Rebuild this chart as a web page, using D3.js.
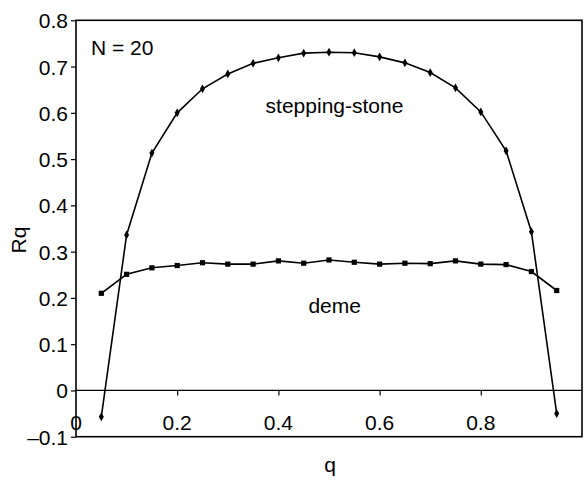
<!DOCTYPE html>
<html>
<head>
<meta charset="utf-8">
<script src="https://cdn.jsdelivr.net/npm/d3@7"></script>
<style>
  body { margin: 0; background: #fff; }
  svg { display: block; font-family: "Liberation Sans", Arial, sans-serif; }
</style>
</head>
<body>
<div id="chart"></div>
<script>
// q values (x), shared by both series
const qValues = [0.05, 0.1, 0.15, 0.2, 0.25, 0.3, 0.35, 0.4, 0.45, 0.5,
  0.55, 0.6, 0.65, 0.7, 0.75, 0.8, 0.85, 0.9, 0.95];

const steppingStone = [-0.057, 0.336, 0.513, 0.600, 0.652, 0.684, 0.707, 0.719, 0.729, 0.731,
  0.730, 0.721, 0.708, 0.687, 0.654, 0.602, 0.518, 0.343, -0.050];

const deme = [0.210, 0.251, 0.265, 0.270, 0.276, 0.273, 0.273, 0.280, 0.275, 0.282,
  0.277, 0.273, 0.275, 0.274, 0.280, 0.273, 0.272, 0.257, 0.216];

const xTicks = [0, 0.2, 0.4, 0.6, 0.8];
const yTicks = [-0.1, 0, 0.1, 0.2, 0.3, 0.4, 0.5, 0.6, 0.7, 0.8];

const width = 584;
const height = 481;
const margin = {top: 20.3, right: 2, bottom: 44.3, left: 76};
const innerW = width - margin.left - margin.right;
const innerH = height - margin.top - margin.bottom;
const fontSize = 21;

const svg = d3.select('#chart')
  .append('svg')
  .attr('width', width)
  .attr('height', height);

const g = svg.append('g')
  .attr('transform', `translate(${margin.left},${margin.top})`);

const x = d3.scaleLinear().domain([0, 1]).range([0, innerW]);
const y = d3.scaleLinear().domain([-0.1, 0.8]).range([innerH, 0]);

const fmt = (d) => {
  if (Math.abs(d) < 1e-9) return '0';
  const s = d3.format('.1f')(Math.abs(d));
  return d < 0 ? '\u2013' + s : s;
};

// y axis
const yAxis = g.append('g')
  .call(d3.axisLeft(y).tickValues(yTicks).tickSize(5).tickPadding(3).tickFormat(fmt));
yAxis.select('.domain').remove();
yAxis.selectAll('line').attr('stroke', '#000').attr('stroke-width', 1.2);
yAxis.selectAll('text')
  .attr('font-size', fontSize)
  .attr('fill', '#000')
  .attr('dy', '0.36em');

// zero line with downward ticks
const y0 = y(0);
const xAxis = g.append('g')
  .attr('transform', `translate(0,${y0})`)
  .call(d3.axisBottom(x).tickValues(xTicks.filter((d) => d > 0)).tickSize(5).tickFormat(''));
xAxis.select('.domain').remove();
xAxis.selectAll('line').attr('stroke', '#000').attr('stroke-width', 1.2);

g.append('line')
  .attr('x1', 0).attr('x2', innerW)
  .attr('y1', y0).attr('y2', y0)
  .attr('stroke', '#000')
  .attr('stroke-width', 1.2);

// x tick labels sit near the bottom of the frame
g.append('g')
  .selectAll('text')
  .data(xTicks)
  .join('text')
  .attr('x', (d) => x(d))
  .attr('y', innerH - 6.5)
  .attr('text-anchor', 'middle')
  .attr('font-size', fontSize)
  .text(fmt);

// frame
g.append('rect')
  .attr('x', 0).attr('y', 0)
  .attr('width', innerW).attr('height', innerH)
  .attr('fill', 'none')
  .attr('stroke', '#000')
  .attr('stroke-width', 1.6);

// series
const line = (vals) => d3.line()
  .x((d, i) => x(qValues[i]))
  .y((d) => y(d))(vals);

g.append('path')
  .attr('d', line(steppingStone))
  .attr('fill', 'none')
  .attr('stroke', '#000')
  .attr('stroke-width', 1.6);

g.append('path')
  .attr('d', line(deme))
  .attr('fill', 'none')
  .attr('stroke', '#000')
  .attr('stroke-width', 1.6);

g.append('g')
  .selectAll('path')
  .data(steppingStone)
  .join('path')
  .attr('transform', (d, i) => `translate(${x(qValues[i])},${y(d)})`)
  .attr('d', d3.symbol(d3.symbolDiamond, 22))
  .attr('fill', '#000');

g.append('g')
  .selectAll('rect')
  .data(deme)
  .join('rect')
  .attr('x', (d, i) => x(qValues[i]) - 2.6)
  .attr('y', (d) => y(d) - 2.6)
  .attr('width', 5.2)
  .attr('height', 5.2)
  .attr('fill', '#000');

// annotations
g.append('text')
  .attr('x', 91 - margin.left)
  .attr('y', 55 - margin.top)
  .attr('font-size', fontSize)
  .text('N = 20');

g.append('text')
  .attr('x', 334.5 - margin.left)
  .attr('y', 113 - margin.top)
  .attr('text-anchor', 'middle')
  .attr('font-size', fontSize)
  .text('stepping-stone');

g.append('text')
  .attr('x', 334.7 - margin.left)
  .attr('y', 313 - margin.top)
  .attr('text-anchor', 'middle')
  .attr('font-size', fontSize)
  .text('deme');

// axis titles
svg.append('text')
  .attr('x', 330)
  .attr('y', 472)
  .attr('text-anchor', 'middle')
  .attr('font-size', fontSize)
  .text('q');

svg.append('text')
  .attr('transform', 'translate(26,240) rotate(-90)')
  .attr('text-anchor', 'middle')
  .attr('font-size', fontSize)
  .text('Rq');
</script>
</body>
</html>
